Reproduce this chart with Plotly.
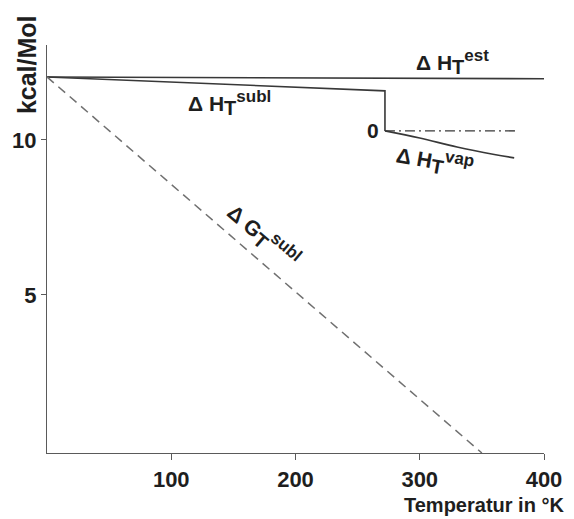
import plotly.graph_objects as go

# Data (T in K, values in kcal/Mol)
T_est = [0, 400]
H_est = [12.03, 11.97]

T_subl = [0, 272, 272]
H_subl = [12.03, 11.58, 10.29]

T_vap = [272, 300, 330, 360, 376]
H_vap = [10.29, 10.06, 9.77, 9.53, 9.42]

T_zero = [272, 378]
H_zero = [10.29, 10.29]

T_G = [0, 350]
G_subl = [12.03, -0.1]

x_ticks = [100, 200, 300, 400]
y_ticks = [5, 10]

FONT = "Liberation Sans, Arial, sans-serif"
LC = "#383838"
TC = "#1e1e1e"

fig = go.Figure()
fig.add_trace(go.Scatter(x=T_est, y=H_est, mode="lines", line=dict(color=LC, width=1.6)))
fig.add_trace(go.Scatter(x=T_subl, y=H_subl, mode="lines", line=dict(color=LC, width=1.6)))
fig.add_trace(go.Scatter(x=T_vap, y=H_vap, mode="lines", line=dict(color=LC, width=1.6, shape="spline")))
fig.add_trace(go.Scatter(x=T_zero, y=H_zero, mode="lines", line=dict(color=LC, width=1.4, dash="10px,4px,2px,4px")))
fig.add_trace(go.Scatter(x=T_G, y=G_subl, mode="lines", line=dict(color="#707070", width=1.5, dash="9px,6px")))


def lbl(main, sub, sup):
    return (f"<b>Δ {main}</b><sub><span style='font-size:20px'><b>{sub}</b></span></sub>"
            f"<sup><span style='font-size:17px'><b>{sup}</b></span></sup>")


ann_font = dict(family=FONT, size=21, color=TC)
anns = [
    dict(x=326, y=12.5, text=lbl("H", "T", "est"), textangle=0),
    dict(x=147, y=11.2, text=lbl("H", "T", "subl"), textangle=0),
    dict(x=312, y=9.32, text=lbl("H", "T", "vap"), textangle=10),
    dict(x=174, y=6.9, text=lbl("G", "T", "subl"), textangle=40),
    dict(x=262, y=10.3, text="<b>0</b>", textangle=0),
]
for a in anns:
    fig.add_annotation(x=a["x"], y=a["y"], text=a["text"], textangle=a["textangle"],
                       showarrow=False, font=ann_font, xref="x", yref="y")

PW = 574 - 47 - 27
PH = 519 - 45 - 66
fig.add_annotation(x=(27 - 47) / PW, y=(519 - 66 - 65) / PH, xref="paper", yref="paper",
                   text="<b>kcal/Mol</b>", textangle=-90, showarrow=False,
                   xanchor="center", yanchor="middle",
                   font=dict(family=FONT, size=25, color=TC))
fig.add_annotation(x=(569 - 47) / PW, y=-(505 - (519 - 66)) / PH, xref="paper", yref="paper",
                   text="<b>Temperatur in °K</b>", showarrow=False, xanchor="right", yanchor="middle",
                   font=dict(family=FONT, size=20, color=TC))

fig.update_layout(
    width=574, height=519,
    margin=dict(l=47, r=27, t=45, b=66),
    paper_bgcolor="white", plot_bgcolor="white",
    showlegend=False,
    xaxis=dict(range=[0, 400], tickvals=x_ticks, ticktext=[f"<b>{v}</b>" for v in x_ticks],
               showgrid=False, zeroline=False, showline=True, linecolor="#5a5a5a", linewidth=1.2,
               ticks="outside", ticklen=6, tickcolor="#5a5a5a",
               tickfont=dict(family=FONT, size=22, color=TC)),
    yaxis=dict(range=[-0.1, 13.06], tickvals=y_ticks, ticktext=[f"<b>{v}</b>" for v in y_ticks],
               showgrid=False, zeroline=False, showline=True, linecolor="#5a5a5a", linewidth=1.2,
               ticks="outside", ticklen=5, tickcolor="#5a5a5a",
               tickfont=dict(family=FONT, size=22, color=TC)),
)

fig.write_html("out.html")
